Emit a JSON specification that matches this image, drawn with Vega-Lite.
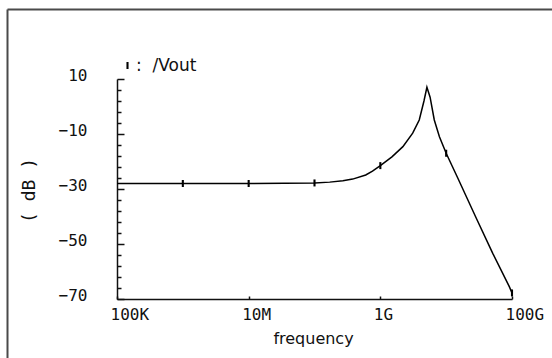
{
  "$schema": "https://vega.github.io/schema/vega-lite/v6.json",
  "width": 545,
  "height": 349,
  "autosize": {"type": "none"},
  "padding": {"left": 7, "top": 9, "right": 0, "bottom": 0},
  "background": "white",
  "config": {
    "view": {"stroke": "transparent"},
    "axis": {
      "grid": false,
      "domainColor": "#111111",
      "domainWidth": 1.5,
      "tickColor": "#111111",
      "tickWidth": 1.5,
      "labelColor": "#111111",
      "titleColor": "#111111",
      "labelFont": "DejaVu Sans Mono",
      "labelFontSize": 16,
      "labelFontWeight": "normal",
      "titleFontWeight": "normal",
      "labelOverlap": false,
      "labelBound": false,
      "labelFlush": false
    }
  },
  "datasets": {
    "curve": [
      {"freq": 1e5, "db": -28.0},
      {"freq": 1e6, "db": -28.0},
      {"freq": 1e7, "db": -28.0},
      {"freq": 1e8, "db": -27.8},
      {"freq": 1.7e8, "db": -27.5},
      {"freq": 2.7e8, "db": -27.0},
      {"freq": 3.8e8, "db": -26.4},
      {"freq": 6.0e8, "db": -24.9},
      {"freq": 7.6e8, "db": -23.5},
      {"freq": 1.0e9, "db": -21.5},
      {"freq": 1.5e9, "db": -18.3},
      {"freq": 2.2e9, "db": -14.6},
      {"freq": 3.1e9, "db": -9.7},
      {"freq": 3.9e9, "db": -4.9},
      {"freq": 4.6e9, "db": 2.0},
      {"freq": 5.1e9, "db": 7.0},
      {"freq": 5.7e9, "db": 3.4},
      {"freq": 6.6e9, "db": -4.9},
      {"freq": 7.9e9, "db": -11.0},
      {"freq": 1.0e10, "db": -17.0},
      {"freq": 1.5e10, "db": -26.0},
      {"freq": 2.8e10, "db": -40.1},
      {"freq": 5.1e10, "db": -53.4},
      {"freq": 9.1e10, "db": -65.5},
      {"freq": 1.0e11, "db": -67.8}
    ],
    "markers": [
      {"freq": 1e6, "db": -28.0, "series": "/Vout"},
      {"freq": 1e7, "db": -28.0, "series": "/Vout"},
      {"freq": 1e8, "db": -27.8, "series": "/Vout"},
      {"freq": 1e9, "db": -21.5, "series": "/Vout"},
      {"freq": 1e10, "db": -17.0, "series": "/Vout"},
      {"freq": 1e11, "db": -67.8, "series": "/Vout"}
    ]
  },
  "resolve": {"scale": {"x": "independent", "y": "independent"}},
  "layer": [
    {
      "layer": [
        {
          "data": {"name": "curve"},
          "mark": {"type": "line", "color": "black", "strokeWidth": 1.5},
          "encoding": {
            "x": {
              "field": "freq",
              "type": "quantitative",
              "scale": {"type": "log", "domain": [1e5, 1e11], "range": [110, 505], "nice": false},
              "axis": {
                "orient": "bottom",
                "offset": -59,
                "values": [1e5, 1e7, 1e9, 1e11],
                "tickCount": 50,
                "tickSize": -3,
                "labelExpr": "upper(format(datum.value, '~s'))",
                "labelAlign": "left",
                "labelOffset": -7,
                "labelBaseline": "alphabetic",
                "labelPadding": 23,
                "labelOverlap": false,
                "title": "frequency",
                "titleFont": "DejaVu Sans",
                "titleFontSize": 16,
                "titleX": 306,
                "titleY": 44,
                "titleAlign": "center",
                "titleBaseline": "alphabetic"
              }
            },
            "y": {
              "field": "db",
              "type": "quantitative",
              "scale": {"domain": [-70, 10], "range": [290, 70], "nice": false, "zero": false},
              "axis": {
                "orient": "left",
                "offset": -110,
                "values": [-70, -66, -62, -58, -54, -50, -46, -42, -38, -34, -30, -26, -22, -18, -14, -10, -6, -2, 2, 6, 10],
                "tickCount": 100,
                "tickSize": {"condition": {"test": "(datum.value + 70) % 20 === 0", "value": -7}, "value": -4},
                "labelExpr": "(datum.value + 70) % 20 === 0 ? datum.label : ''",
                "labelOverlap": false,
                "labelAlign": "right",
                "labelBaseline": "middle",
                "labelPadding": 37,
                "labelOffset": -4,
                "title": "( dB )",
                "titleFont": "DejaVu Sans Mono",
                "titleFontSize": 18,
                "titleAngle": -90,
                "titleX": -88,
                "titleY": 181,
                "titleAlign": "center",
                "titleBaseline": "middle"
              }
            }
          }
        },
        {
          "data": {"name": "markers"},
          "mark": {"type": "point", "filled": true, "shape": "M-0.3,-1H0.3V1H-0.3Z", "size": 49, "opacity": 1},
          "encoding": {
            "x": {"field": "freq", "type": "quantitative"},
            "y": {"field": "db", "type": "quantitative"},
            "color": {
              "field": "series",
              "type": "nominal",
              "scale": {"range": ["black"]},
              "legend": {
                "orient": "none",
                "legendX": 112,
                "legendY": 48,
                "title": null,
                "padding": 0,
                "symbolType": "M-0.3,-1H0.3V1H-0.3Z",
                "symbolSize": 49,
                "symbolFillColor": "black",
                "symbolStrokeWidth": 0,
                "labelFont": "DejaVu Sans",
                "labelFontSize": 17,
                "labelColor": "#111111",
                "labelOffset": 0,
                "labelExpr": "':\u00a0\u00a0' + datum.label"
              }
            }
          }
        }
      ]
    },
    {
      "data": {"name": "curve"},
      "mark": {"type": "point", "opacity": 0},
      "encoding": {
        "x": {
          "field": "freq",
          "type": "quantitative",
          "axis": {"orient": "top", "offset": 0, "domain": true, "domainColor": "#4a4a4a", "domainWidth": 2, "ticks": false, "labels": false, "title": null}
        },
        "y": {
          "field": "db",
          "type": "quantitative",
          "axis": {"orient": "left", "offset": 0, "domain": true, "domainColor": "#4a4a4a", "domainWidth": 2, "ticks": false, "labels": false, "title": null}
        }
      }
    }
  ]
}
